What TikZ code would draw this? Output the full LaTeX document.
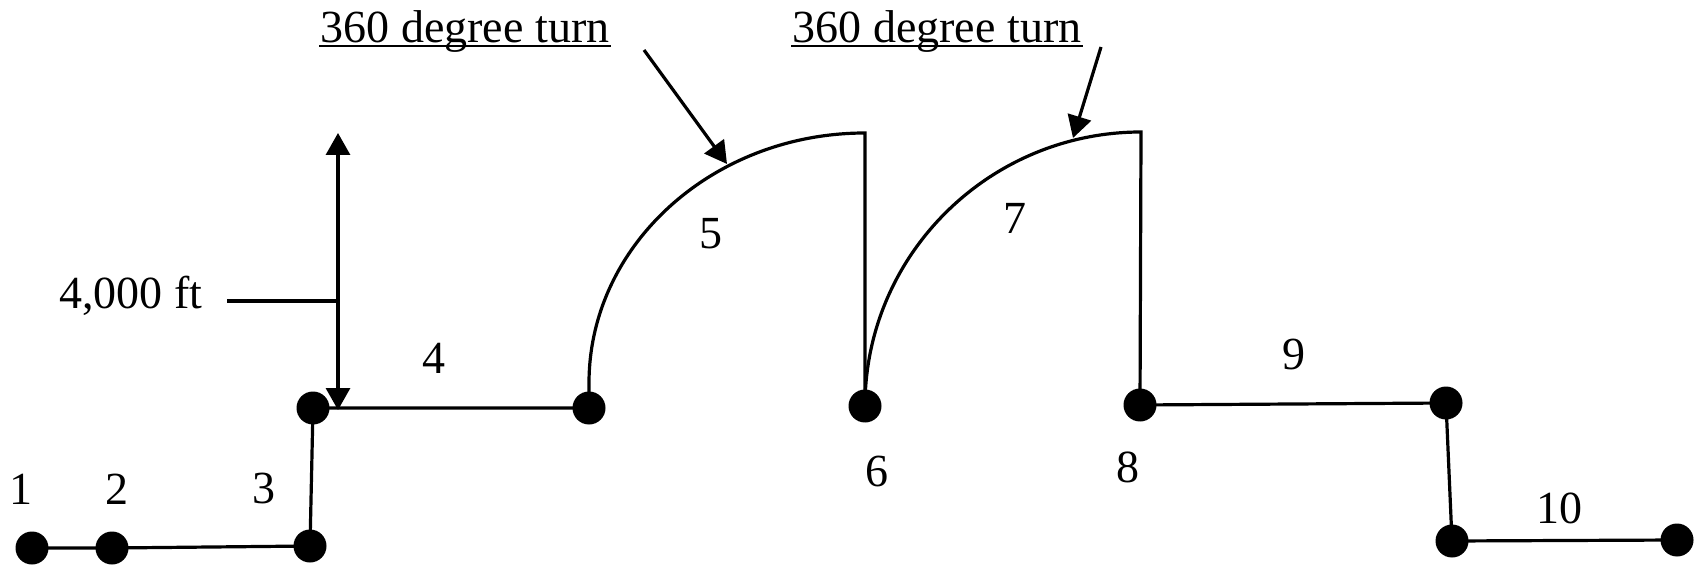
\documentclass[tikz,border=0pt]{standalone}
\usepackage{fontspec}
\setmainfont{Liberation Serif}
\usetikzlibrary{arrows.meta}
\begin{document}
\begin{tikzpicture}[x=0.5pt,y=-0.5pt,
  line width=1.6pt,
  dot/.style={circle,fill=black,inner sep=0pt,minimum size=16.5pt},
  lbl/.style={anchor=base,inner sep=0pt,font=\fontsize{23}{27}\selectfont},
  tri/.style={-{Triangle[length=11pt,width=12pt]}},
  dbl/.style={{Triangle[length=11pt,width=12pt]}-{Triangle[length=11pt,width=12pt]}},
  uline/.style={line width=1.1pt}
]
\useasboundingbox (0,0) rectangle (1695,566);
% dots
\node[dot] (n1) at (32,548) {};
\node[dot] (n2) at (112,548) {};
\node[dot] (n3) at (310,546) {};
\node[dot] (n3t) at (313,408) {};
\node[dot] (n5) at (589,408) {};
\node[dot] (n6) at (865,406) {};
\node[dot] (n8) at (1140,405) {};
\node[dot] (n9) at (1446,403) {};
\node[dot] (n10) at (1452,541) {};
\node[dot] (n11) at (1677,540) {};
% helper coordinates
\coordinate (a5b) at (589,383);
\coordinate (a5t) at (865,133);
\coordinate (a7t) at (1141,132);
\coordinate (va1) at (338,410);
\coordinate (va2) at (338,133);
\coordinate (ft1) at (227,301);
\coordinate (ft2) at (338,301);
\coordinate (ar1s) at (644,50);
\coordinate (ar1e) at (727,164);
\coordinate (ar2s) at (1101,47);
\coordinate (ar2e) at (1073,138);
% path segments
\draw (n1.center) -- (n2.center) -- (n3.center) -- (n3t.center) -- (n5.center);
\draw (n5.center) -- (a5b) .. controls (589,245) and (713,133) .. (a5t) -- (n6.center);
\draw (n6.center) .. controls (865,255) and (989,132) .. (a7t) -- (n8.center);
\draw (n8.center) -- (n9.center) -- (n10.center) -- (n11.center);
% vertical dimension arrow
\draw[dbl] (va1) -- (va2);
\draw (ft1) -- (ft2);
% pointer arrows
\draw[tri] (ar1s) -- (ar1e);
\draw[tri] (ar2s) -- (ar2e);
% titles
\node[lbl] (t1) at (465,43) {360 degree turn};
\node[lbl] (t2) at (937,43) {360 degree turn};
\draw[uline] ([yshift=-1.6pt]t1.base west) -- ([yshift=-1.6pt]t1.base east);
\draw[uline] ([yshift=-1.6pt]t2.base west) -- ([yshift=-1.6pt]t2.base east);
% labels
\node[lbl] (lft) at (131,309) {4,000 ft};
\node[lbl] (l1) at (21,504) {1};
\node[lbl] (l2) at (117,504) {2};
\node[lbl] (l3) at (264,503) {3};
\node[lbl] (l4) at (434,373) {4};
\node[lbl] (l5) at (711,249) {5};
\node[lbl] (l6) at (877,486) {6};
\node[lbl] (l7) at (1015,234) {7};
\node[lbl] (l8) at (1128,482) {8};
\node[lbl] (l9) at (1294,369) {9};
\node[lbl] (l10) at (1559,523) {10};
\end{tikzpicture}
\end{document}
